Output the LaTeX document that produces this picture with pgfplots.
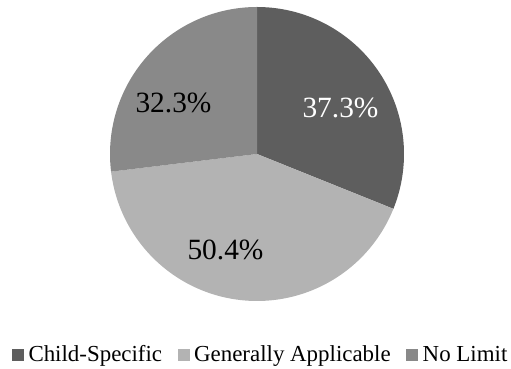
\documentclass[border=0pt]{standalone}
\usepackage{pgfplots}
\usepackage{pgfplotstable}
\pgfplotsset{compat=1.18}
\usepackage{fontspec}
\setmainfont{Liberation Serif}

\definecolor{cChild}{HTML}{5E5E5E}
\definecolor{cGeneral}{HTML}{B3B3B3}
\definecolor{cNoLimit}{HTML}{898989}

% share of each rule type (label x/y = where the percentage is printed)
\pgfplotstableread[col sep=comma]{
label,value,lx,ly
Child-Specific,37.3,340.5,251
Generally Applicable,50.4,225.5,109
No Limit,32.3,173.5,256
}\piedata

\begin{document}
\begin{tikzpicture}
\pgfplotstablegetelem{0}{value}\of\piedata \let\vA\pgfplotsretval
\pgfplotstablegetelem{1}{value}\of\piedata \let\vB\pgfplotsretval
\pgfplotstablegetelem{2}{value}\of\piedata \let\vC\pgfplotsretval
\pgfplotstablegetelem{0}{lx}\of\piedata \let\xA\pgfplotsretval
\pgfplotstablegetelem{1}{lx}\of\piedata \let\xB\pgfplotsretval
\pgfplotstablegetelem{2}{lx}\of\piedata \let\xC\pgfplotsretval
\pgfplotstablegetelem{0}{ly}\of\piedata \let\yA\pgfplotsretval
\pgfplotstablegetelem{1}{ly}\of\piedata \let\yB\pgfplotsretval
\pgfplotstablegetelem{2}{ly}\of\piedata \let\yC\pgfplotsretval
\pgfmathsetmacro\tot{\vA+\vB+\vC}
\pgfmathsetmacro\deg{360/\tot}
% wedges run clockwise from 12 o'clock
\pgfmathsetmacro\aA{90}
\pgfmathsetmacro\aB{\aA-\deg*\vA}
\pgfmathsetmacro\aC{\aB-\deg*\vB}
\pgfmathsetmacro\aD{\aC-\deg*\vC}
\def\cx{257}\def\cy{215}\def\rr{147}
\begin{axis}[
  hide axis,
  scale only axis,
  width=511bp, height=369bp,
  xmin=0, xmax=511, ymin=0, ymax=369,
  clip=false,
  legend columns=3,
  legend image code/.code={\fill[#1] (0bp,0bp) rectangle (12bp,12bp);},
  legend style={
    at={(axis cs:12,3)}, anchor=south west,
    draw=none, fill=none, inner sep=0pt, outer sep=0pt,
    font=\fontsize{23}{27}\selectfont,
    nodes={inner sep=0pt, text height=16bp, text depth=5bp, anchor=base west},
    /tikz/every odd column/.append style={column sep=4.5bp},
    /tikz/every even column/.append style={column sep=15.5bp},
  },
]
\addplot[fill=cChild, draw=none, domain=\aB:\aA, samples=90, variable=\t]
  ({\cx+\rr*cos(t)},{\cy+\rr*sin(t)}) -- (axis cs:\cx,\cy) -- cycle;
\addlegendentry{Child-Specific}
\addplot[fill=cGeneral, draw=none, domain=\aC:\aB, samples=120, variable=\t]
  ({\cx+\rr*cos(t)},{\cy+\rr*sin(t)}) -- (axis cs:\cx,\cy) -- cycle;
\addlegendentry{Generally Applicable}
\addplot[fill=cNoLimit, draw=none, domain=\aD:\aC, samples=90, variable=\t]
  ({\cx+\rr*cos(t)},{\cy+\rr*sin(t)}) -- (axis cs:\cx,\cy) -- cycle;
\addlegendentry{No Limit}

\node[anchor=base, text=white, font=\fontsize{29.5}{34}\selectfont, inner sep=0pt]
  at (axis cs:\xA,\yA) {\vA\%};
\node[anchor=base, text=black, font=\fontsize{29.5}{34}\selectfont, inner sep=0pt]
  at (axis cs:\xB,\yB) {\vB\%};
\node[anchor=base, text=black, font=\fontsize{29.5}{34}\selectfont, inner sep=0pt]
  at (axis cs:\xC,\yC) {\vC\%};
\end{axis}
\pgfresetboundingbox
\path[use as bounding box] (0,0) rectangle (511bp,369bp);
\end{tikzpicture}
\end{document}
